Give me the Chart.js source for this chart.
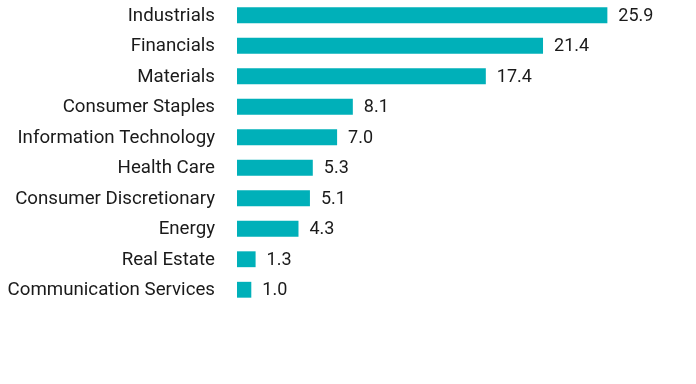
<!DOCTYPE html>
<html>
<head>
<meta charset="utf-8">
<script src="https://cdn.jsdelivr.net/npm/chart.js@4"></script>
<style>
  html, body { margin: 0; padding: 0; background: #fff; }
  #wrap { width: 696px; height: 384px; position: relative; }
</style>
</head>
<body>
<div id="wrap"><canvas id="sectorChart"></canvas></div>
<script>
const sectors = [
  "Industrials", "Financials", "Materials", "Consumer Staples",
  "Information Technology", "Health Care", "Consumer Discretionary",
  "Energy", "Real Estate", "Communication Services"
];
const weights = [25.9, 21.4, 17.4, 8.1, 7.0, 5.3, 5.1, 4.3, 1.3, 1.0];

// draws the numbers at the end of each bar
const valueLabels = {
  id: 'valueLabels',
  afterDatasetsDraw(chart) {
    const ctx = chart.ctx;
    const meta = chart.getDatasetMeta(0);
    ctx.save();
    ctx.font = '18px Roboto';
    ctx.fillStyle = '#1a1a1a';
    ctx.textAlign = 'left';
    ctx.textBaseline = 'middle';
    meta.data.forEach((bar, i) => {
      ctx.fillText(weights[i].toFixed(1), bar.x + 11, bar.y + 1);
    });
    ctx.restore();
  }
};

new Chart(document.getElementById('sectorChart'), {
  type: 'bar',
  data: {
    labels: sectors,
    datasets: [{
      data: weights,
      backgroundColor: '#00b0b9',
      barPercentage: 0.52,
      categoryPercentage: 1.0
    }]
  },
  options: {
    indexAxis: 'y',
    responsive: true,
    maintainAspectRatio: false,
    animation: false,
    layout: { padding: { top: 0, bottom: 79, left: 0, right: 30 } },
    scales: {
      x: { display: false, min: 0, max: 30 },
      y: {
        grid: { display: false, drawTicks: false },
        border: { display: false },
        afterFit(scale) {
          scale.width = 237;
          scale.paddingTop = 0;
          scale.paddingBottom = 0;
        },
        ticks: {
          padding: 22,
          labelOffset: 1,
          color: '#1a1a1a',
          font: { family: 'Roboto', size: 18.7 }
        }
      }
    },
    plugins: {
      legend: { display: false },
      tooltip: { enabled: false }
    }
  },
  plugins: [valueLabels]
});
</script>
</body>
</html>
